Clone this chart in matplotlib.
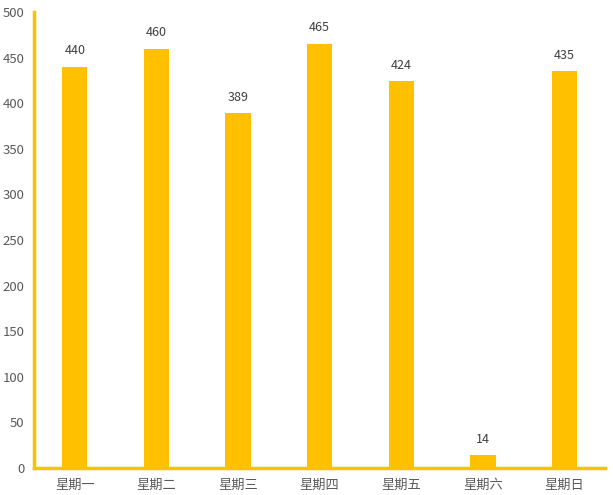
import matplotlib
matplotlib.use('Agg')
import matplotlib.pyplot as plt

plt.rcParams['font.family'] = ['Noto Sans CJK SC', 'DejaVu Sans']

# days of week and values
DAYS = ['星期一', '星期二', '星期三', '星期四', '星期五', '星期六', '星期日']
VALUES = [440, 460, 389, 465, 424, 14, 435]

BAR_COLOR = '#FFC000'
TEXT_COLOR = '#595959'


def main():
    fig = plt.figure(figsize=(6.13, 4.95), dpi=100)
    ax = fig.add_axes([0.0555, 0.0545, 0.932, 0.921])

    x = list(range(len(DAYS)))
    bars = ax.bar(x, VALUES, width=0.31, color=BAR_COLOR)

    for b, v in zip(bars, VALUES):
        ax.annotate(str(v), (b.get_x() + b.get_width() / 2, v),
                    xytext=(0, 7), textcoords='offset points',
                    ha='center', va='bottom', fontsize=9, color='#404040')

    ax.set_xlim(-0.5, len(DAYS) - 0.5)
    ax.set_ylim(0, 500)
    ax.set_yticks(range(0, 501, 50))
    ax.set_xticks(x)
    ax.set_xticklabels(DAYS)

    for s in ['top', 'right']:
        ax.spines[s].set_visible(False)
    for s in ['left', 'bottom']:
        ax.spines[s].set_color(BAR_COLOR)
        ax.spines[s].set_linewidth(2.5)

    ax.tick_params(axis='both', length=0, colors=TEXT_COLOR, labelsize=9.5)
    ax.tick_params(axis='y', pad=7)
    ax.tick_params(axis='x', pad=8)

    fig.savefig('out.png', dpi=100)


if __name__ == "__main__":
    main()
